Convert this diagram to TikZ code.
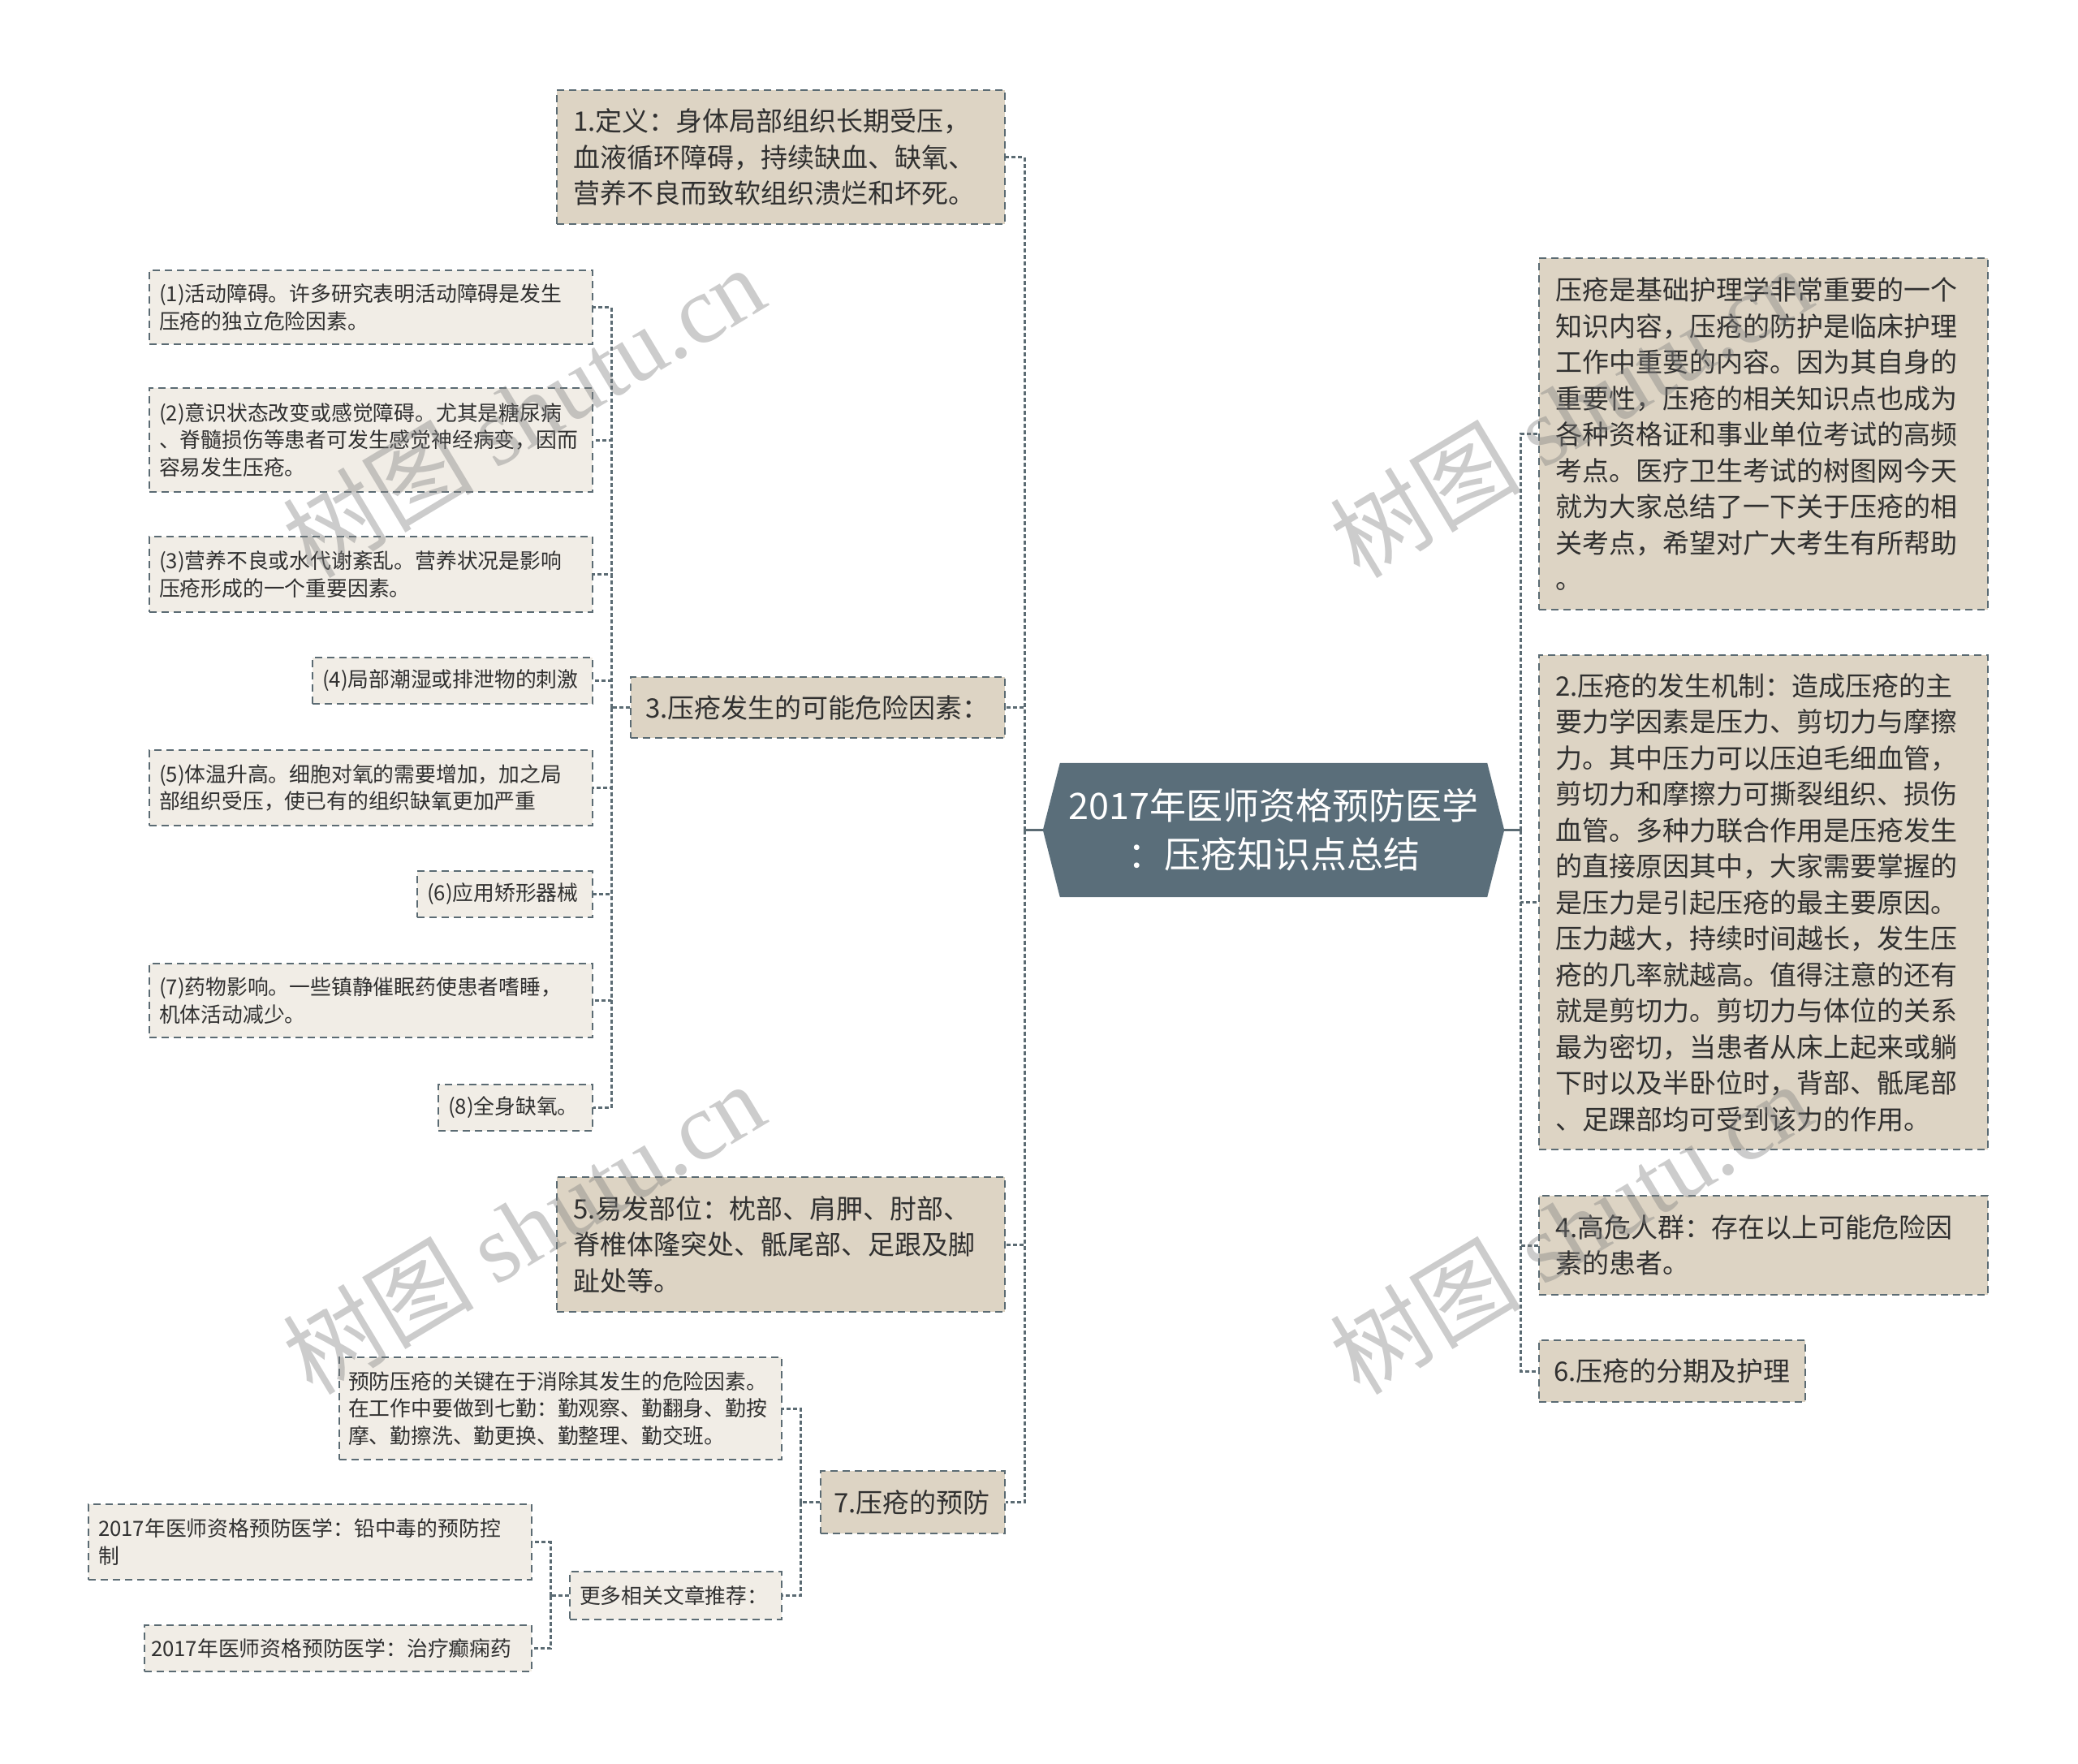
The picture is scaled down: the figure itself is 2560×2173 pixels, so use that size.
\documentclass[tikz,border=0pt]{standalone}
\usepackage{fontspec}
\setmainfont{Noto Sans CJK SC}
\newfontfamily\wmserif{Liberation Serif}
\usetikzlibrary{backgrounds}
\definecolor{lineC}{HTML}{5B6B73}
\definecolor{lvlC}{HTML}{DDD4C4}
\definecolor{subC}{HTML}{F1EDE6}
\definecolor{rootC}{HTML}{5A6E7A}
\definecolor{txtC}{HTML}{303030}
\tikzset{
  box/.style={draw=lineC, line width=2pt, dash pattern=on 9pt off 6pt, inner ysep=0pt, align=left, text=txtC},
  lvl/.style={box, fill=lvlC, inner xsep=20pt, font=\fontsize{33}{44.5}\selectfont},
  sub/.style={box, fill=subC, inner xsep=12pt, font=\fontsize{25.8}{33.5}\selectfont},
  link/.style={draw=lineC, line width=3pt, dash pattern=on 5pt off 3pt},
  rootlink/.style={draw=lineC, line width=3pt},
  wm/.style={rotate=31, text=black!50, text opacity=0.4, font=\fontsize{118}{118}\selectfont, inner sep=0pt}
}
\begin{document}
\begin{tikzpicture}[x=1pt,y=-1pt]
\useasboundingbox (0,0) rectangle (2560,2173);
% root
\node[text=white, align=center, text width=540pt, minimum width=568pt, minimum height=165pt, inner sep=0pt,
  font=\fontsize{45}{60}\selectfont] (root) at (1569,1022.5) {2017年医师资格预防医学\\：压疮知识点总结};
\begin{scope}[on background layer]
\fill[white] (0,0) rectangle (2560,2173);
\fill[rootC] (root.west) -- ([xshift=21pt]root.north west) -- ([xshift=-21pt]root.north east) -- (root.east)
  -- ([xshift=-21pt]root.south east) -- ([xshift=21pt]root.south west) -- cycle;
\end{scope}
% level 1 left
\node[lvl, text width=512pt, minimum height=165pt] (n1) at (962,193.5) {1.定义：身体局部组织长期受压，\\血液循环障碍，持续缺血、缺氧、\\营养不良而致软组织溃烂和坏死。};
\node[lvl, inner xsep=18pt, text width=425pt, minimum height=75pt] (n3) at (1007.5,871.5) {3.压疮发生的可能危险因素：};
\node[lvl, text width=512pt, minimum height=166pt] (n5) at (962,1533) {5.易发部位：枕部、肩胛、肘部、\\脊椎体隆突处、骶尾部、足跟及脚\\趾处等。};
\node[lvl, inner xsep=16pt, text width=195pt, minimum height=77pt] (n7) at (1124.5,1850.5) {7.压疮的预防};
% level 1 right
\node[lvl, text width=513pt, minimum height=433pt] (r0) at (2172.5,534.5) {压疮是基础护理学非常重要的一个\\知识内容，压疮的防护是临床护理\\工作中重要的内容。因为其自身的\\重要性，压疮的相关知识点也成为\\各种资格证和事业单位考试的高频\\考点。医疗卫生考试的树图网今天\\就为大家总结了一下关于压疮的相\\关考点，希望对广大考生有所帮助\\。};
\node[lvl, text width=513pt, minimum height=609pt] (r2) at (2172.5,1111.5) {2.压疮的发生机制：造成压疮的主\\要力学因素是压力、剪切力与摩擦\\力。其中压力可以压迫毛细血管，\\剪切力和摩擦力可撕裂组织、损伤\\血管。多种力联合作用是压疮发生\\的直接原因其中，大家需要掌握的\\是压力是引起压疮的最主要原因。\\压力越大，持续时间越长，发生压\\疮的几率就越高。值得注意的还有\\就是剪切力。剪切力与体位的关系\\最为密切，当患者从床上起来或躺\\下时以及半卧位时，背部、骶尾部\\、足踝部均可受到该力的作用。};
\node[lvl, text width=513pt, minimum height=122pt] (r4) at (2172.5,1534) {4.高危人群：存在以上可能危险因\\素的患者。};
\node[lvl, inner xsep=18pt, text width=292pt, minimum height=76pt] (r6) at (2060,1689) {6.压疮的分期及护理};
% sub of 3
\node[sub, text width=522pt, minimum height=91pt] (s1) at (457,378.5) {(1)活动障碍。许多研究表明活动障碍是发生\\压疮的独立危险因素。};
\node[sub, text width=522pt, minimum height=128pt] (s2) at (457,542) {(2)意识状态改变或感觉障碍。尤其是糖尿病\\、脊髓损伤等患者可发生感觉神经病变，因而\\容易发生压疮。};
\node[sub, text width=522pt, minimum height=93pt] (s3) at (457,707.5) {(3)营养不良或水代谢紊乱。营养状况是影响\\压疮形成的一个重要因素。};
\node[sub, text width=321pt, minimum height=57pt] (s4) at (557.5,838.5) {(4)局部潮湿或排泄物的刺激};
\node[sub, text width=522pt, minimum height=93pt] (s5) at (457,970.5) {(5)体温升高。细胞对氧的需要增加，加之局\\部组织受压，使已有的组织缺氧更加严重};
\node[sub, text width=192pt, minimum height=57pt] (s6) at (622,1101.5) {(6)应用矫形器械};
\node[sub, text width=522pt, minimum height=91pt] (s7) at (457,1232.5) {(7)药物影响。一些镇静催眠药使患者嗜睡，\\机体活动减少。};
\node[sub, text width=166pt, minimum height=57pt] (s8) at (635,1364.5) {(8)全身缺氧。};
% sub of 7
\node[sub, inner xsep=11pt, text width=523pt, minimum height=126pt] (p1) at (690.5,1735) {预防压疮的关键在于消除其发生的危险因素。\\在工作中要做到七勤：勤观察、勤翻身、勤按\\摩、勤擦洗、勤更换、勤整理、勤交班。};
\node[sub, text width=237pt, minimum height=59pt] (p2) at (832.5,1965.5) {更多相关文章推荐：};
\node[sub, text width=522pt, minimum height=93pt] (q1) at (382,1899.5) {2017年医师资格预防医学：铅中毒的预防控\\制};
\node[sub, inner xsep=8pt, text width=461pt, minimum height=57pt] (q2) at (416.5,2030.5) {2017年医师资格预防医学：治疗癫痫药};
% trunk coordinates
\coordinate (LT) at (1262,1022.5);
\coordinate (RT) at (1873,1022.5);
\coordinate (T3) at (753,871.5);
\coordinate (T7) at (986,1850.5);
\coordinate (TP) at (678,1965.5);
% connectors
\draw[rootlink] (root.west) -- (LT);
\draw[rootlink] (root.east) -- (RT);
\foreach \c in {n1,n3,n5,n7} \draw[link] (LT) |- (\c.east);
\foreach \c in {r0,r2,r4,r6} \draw[link] (RT) |- (\c.west);
\draw[link] (n3.west) -- (T3);
\foreach \c in {s1,s2,s3,s4,s5,s6,s7,s8} \draw[link] (T3) |- (\c.east);
\draw[link] (n7.west) -- (T7);
\foreach \c in {p1,p2} \draw[link] (T7) |- (\c.east);
\draw[link] (p2.west) -- (TP);
\foreach \c in {q1,q2} \draw[link] (TP) |- (\c.east);
% watermarks
\node[wm] (w1) at (645,506) {树图 {\wmserif shutu.cn}};
\node[wm] (w2) at (1935,506) {树图 {\wmserif shutu.cn}};
\node[wm] (w3) at (645,1512) {树图 {\wmserif shutu.cn}};
\node[wm] (w4) at (1935,1512) {树图 {\wmserif shutu.cn}};
\end{tikzpicture}
\end{document}
